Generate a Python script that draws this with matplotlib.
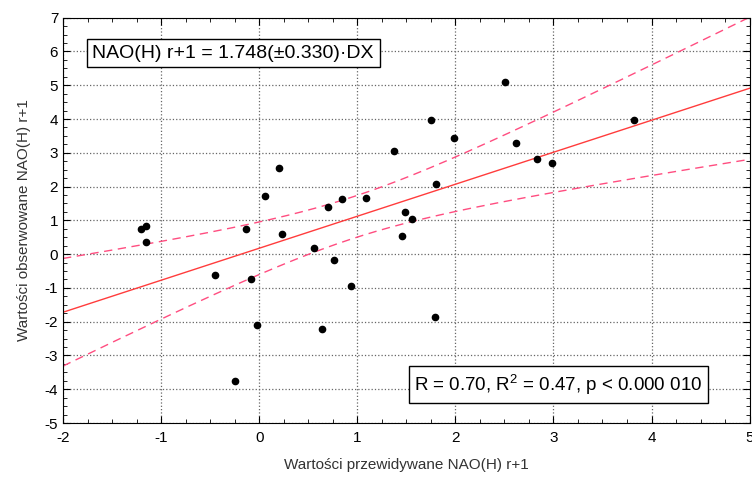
import numpy as np
import matplotlib
matplotlib.use("Agg")
import matplotlib.pyplot as plt
from matplotlib.ticker import MultipleLocator

# predicted (x) vs observed (y) NAO(H) r+1
x_pred = [-1.21, -1.15, -1.15, -0.45, -0.13, -0.08, -0.02, -0.25, 0.06, 0.20,
          0.23, 0.56, 0.64, 0.70, 0.76, 0.84, 0.94, 1.09, 1.37, 1.455,
          1.49, 1.556, 1.756, 1.80, 1.79, 1.99, 2.51, 2.62, 2.83, 2.99, 3.82]
y_obs = [0.75, 0.83, 0.37, -0.62, 0.75, -0.73, -2.11, -3.76, 1.73, 2.56,
         0.60, 0.18, -2.22, 1.40, -0.17, 1.63, -0.94, 1.66, 3.06, 0.55,
         1.26, 1.05, 3.98, 2.09, -1.86, 3.45, 5.10, 3.30, 2.82, 2.71, 3.98]

eq_label = "NAO(H) r+1 = 1.748(±0.330)·DX"
stats_label = "R = 0.70, R$^2$ = 0.47, p < 0.000 010"

plt.rcParams["font.family"] = ["Liberation Sans", "DejaVu Sans"]
plt.rcParams["axes.unicode_minus"] = False
plt.rcParams["mathtext.fontset"] = "custom"
plt.rcParams["mathtext.rm"] = "Liberation Sans"

x = np.array(x_pred)
y = np.array(y_obs)
n = len(x)
slope, icpt = np.polyfit(x, y, 1)
resid = y - (icpt + slope * x)
s = np.sqrt(np.sum(resid ** 2) / (n - 2))
sxx = np.sum((x - x.mean()) ** 2)
t_crit = 2.045  # t(0.975, 29)

xs = np.linspace(-2, 5, 200)
fit = icpt + slope * xs
half = t_crit * s * np.sqrt(1.0 / n + (xs - x.mean()) ** 2 / sxx)

fig = plt.figure(figsize=(7.52, 4.78), dpi=100)
ax = fig.add_axes([0.0838, 0.115, 0.913, 0.848])

ax.plot(xs, fit, color="#ff3c3c", lw=1.0, zorder=2)
ax.plot(xs, fit + half, color="#ff4d80", lw=1.0, ls=(0, (6, 4)), zorder=2)
ax.plot(xs, fit - half, color="#ff4d80", lw=1.0, ls=(0, (6, 4)), zorder=2)
ax.plot(x, y, "o", color="black", ms=4.5, zorder=3)

ax.set_xlim(-2, 5)
ax.set_ylim(-5, 7)
ax.xaxis.set_major_locator(MultipleLocator(1))
ax.xaxis.set_minor_locator(MultipleLocator(0.25))
ax.yaxis.set_major_locator(MultipleLocator(1))
ax.yaxis.set_minor_locator(MultipleLocator(0.25))
ax.tick_params(which="both", direction="in", top=True, right=True,
               labelsize=11, colors="black")
ax.tick_params(which="major", length=5)
ax.tick_params(which="minor", length=3)
ax.tick_params(axis="x", pad=6)
ax.grid(True, which="major", ls=":", color="#666666", lw=0.9)

ax.set_xlabel("Wartości przewidywane NAO(H) r+1", fontsize=11, color="#333333", labelpad=9)
ax.set_ylabel("Wartości obserwowane NAO(H) r+1", fontsize=11, color="#333333", labelpad=10)

box = dict(boxstyle="square,pad=0.3", fc="white", ec="black", lw=1.0)
ax.text(-1.70, 5.95, eq_label, fontsize=14, va="center", ha="left", bbox=box, zorder=5)
ax.text(1.58, -3.86, stats_label, fontsize=13.5, va="center", ha="left", bbox=box, zorder=5)

fig.savefig("out.png", dpi=100)
